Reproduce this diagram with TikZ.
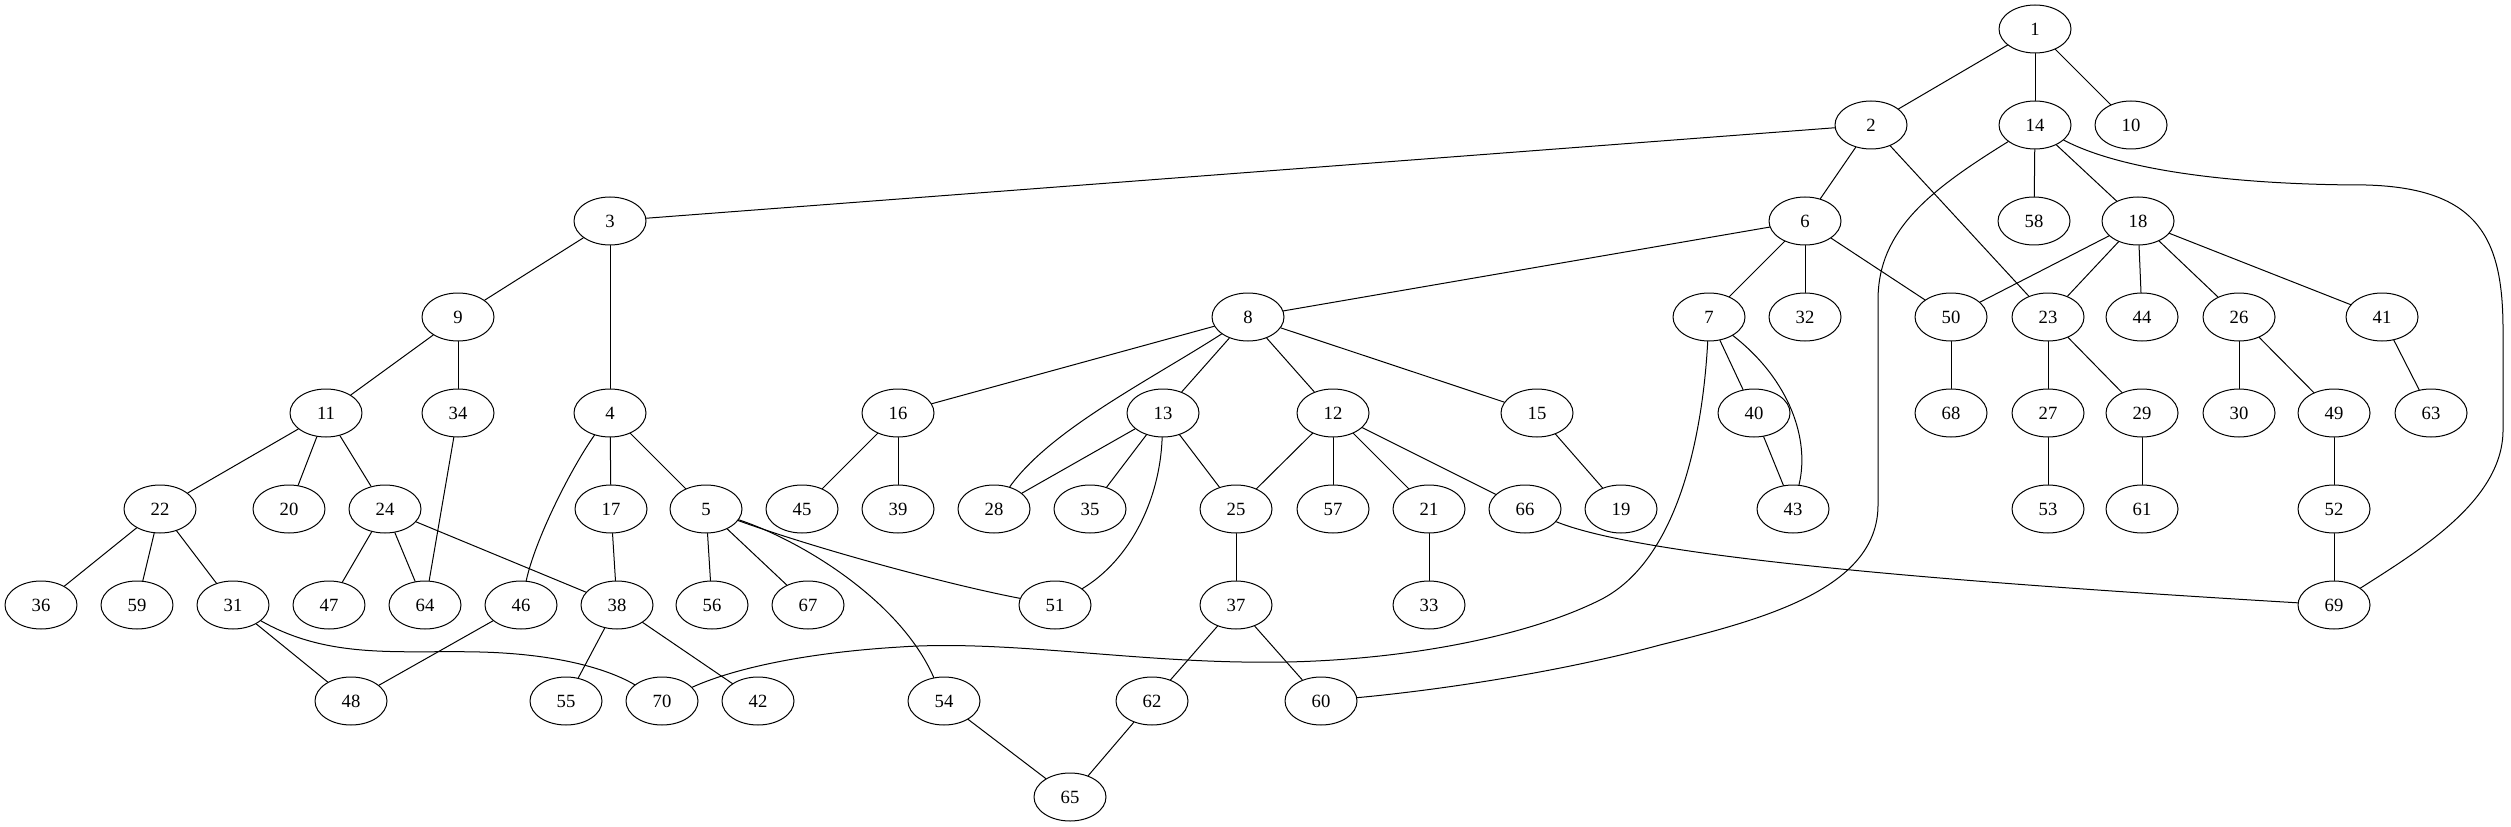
\documentclass[tikz,border=0pt]{standalone}
\usepackage{fontspec}
\setmainfont{Liberation Serif}
\usetikzlibrary{shapes.geometric}
\begin{document}
\begin{tikzpicture}[x=0.75pt,y=-0.75pt, line width=0.75pt, line join=round, line cap=round,
 vtx/.style={draw, ellipse, minimum width=54pt, minimum height=36pt, inner sep=0pt, font=\fontsize{14}{16}\selectfont}]
 \useasboundingbox (0,0) rectangle (2511,827);
 % vertices, rank by rank
 \foreach\i/\x/\y in{1/2035/29, 2/1871/125, 14/2035/125, 10/2131/125,
 3/610/221, 6/1805/221, 58/2034/221, 18/2138/221,
 9/458/317, 8/1248/317, 7/1709/317, 32/1805/317, 50/1951/317, 23/2048/317, 44/2142/317, 26/2239/317, 41/2382/317,
 11/326/413, 34/458/413, 4/610/413, 16/898/413, 13/1163/413, 12/1333/413, 15/1537/413, 40/1754/413, 68/1951/413, 27/2048/413, 29/2142/413, 30/2239/413, 49/2334/413, 63/2431/413,
 22/160/509, 20/289/509, 24/385/509, 17/611/509, 5/706/509, 45/802/509, 39/898/509, 28/994/509, 35/1090/509, 25/1236/509, 57/1333/509, 21/1429/509, 66/1525/509, 19/1621/509, 43/1793/509, 53/2048/509, 61/2142/509, 52/2334/509,
 36/41/605, 59/137/605, 31/233/605, 47/329/605, 64/425/605, 46/521/605, 38/617/605, 56/712/605, 67/808/605, 51/1055/605, 37/1236/605, 33/1429/605, 69/2334/605,
 48/351/701, 55/566/701, 70/662/701, 42/758/701, 54/944/701, 62/1152/701, 60/1321/701,
 65/1070/797}{\node[vtx] (n\i) at (\x,\y){\i};}
 % straight edges
 \foreach\a/\b in{1/2, 1/14, 1/10, 2/3, 2/6, 2/23, 14/58, 14/18, 3/9, 3/4, 6/8, 6/7, 6/32, 6/50,
 18/50, 18/23, 18/44, 18/26, 18/41, 9/11, 9/34, 8/16, 8/13, 8/12, 8/15, 7/40, 50/68, 23/27, 23/29,
 26/30, 26/49, 41/63, 11/22, 11/20, 11/24, 34/64, 4/17, 4/5, 16/45, 16/39, 13/28, 13/35, 13/25,
 12/25, 12/57, 12/21, 12/66, 15/19, 40/43, 27/53, 29/61, 49/52, 22/36, 22/59, 22/31, 24/47, 24/64,
 24/38, 17/38, 5/56, 5/67, 25/37, 21/33, 52/69, 31/48, 46/48, 38/55, 38/42, 37/62, 37/60, 54/65, 62/65}
 {\draw (n\a)--(n\b);}
 % curved edges
 \draw (n14) .. controls (1930,190) and (1878,230) .. (1878,300) -- (1878,505)
 .. controls (1878,590) and (1760,620) .. (1660,645) .. controls (1560,672) and (1440,690) .. (n60);
 \draw (n14) .. controls (2130,175) and (2260,185) .. (2366,185) .. controls (2480,188) and (2503,240) .. (2503,330)
 -- (2503,430) .. controls (2503,500) and (2420,550) .. (n69);
 \draw (n7) .. controls (1703,430) and (1680,560) .. (1600,600) .. controls (1520,640) and (1380,665) .. (1242,662)
 .. controls (1120,660) and (1000,640) .. (900,647) .. controls (800,653) and (730,670) .. (n70);
 \draw (n13) .. controls (1160,500) and (1130,560) .. (n51);
 \draw (n4) .. controls (570,470) and (535,540) .. (n46);
 \draw (n7) .. controls (1790,380) and (1810,440) .. (n43);
 \draw (n8) .. controls (1150,380) and (1050,430) .. (n28);
 \draw (n5) .. controls (800,540) and (900,600) .. (n54);
 \draw (n5) .. controls (820,550) and (950,585) .. (n51);
 \draw (n31) .. controls (330,660) and (400,650) .. (480,652) .. controls (560,654) and (610,670) .. (n70);
 \draw (n66) .. controls (1650,560) and (2000,585) .. (n69);
\end{tikzpicture}
\end{document}
